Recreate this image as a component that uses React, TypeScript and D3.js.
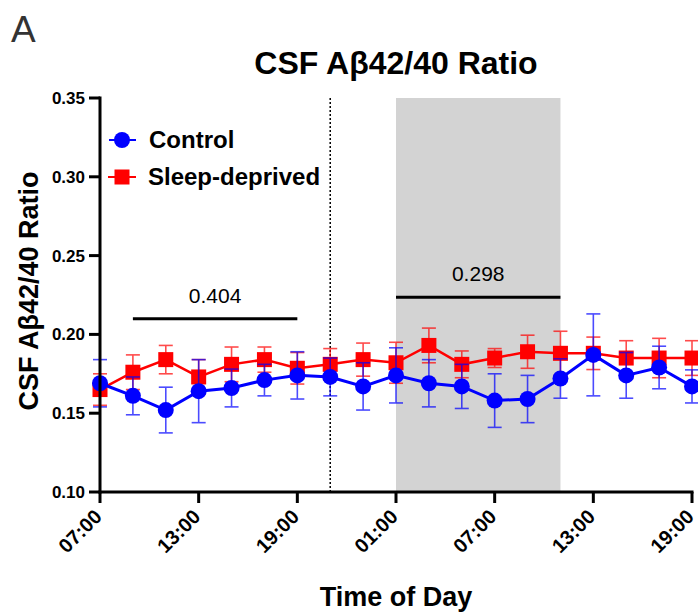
import React from "react";
import * as d3 from "d3";

// hours since 07:00 on day 1
const hours = [0, 2, 4, 6, 8, 10, 12, 14, 16, 18, 20, 22, 24, 26, 28, 30, 32, 34, 36];
const controlMean = [0.169, 0.161, 0.152, 0.164, 0.166, 0.171, 0.174, 0.173, 0.167, 0.174, 0.169, 0.167, 0.158, 0.159, 0.172, 0.187, 0.174, 0.179, 0.167];
const controlErr = [0.015, 0.012, 0.0145, 0.020, 0.012, 0.010, 0.015, 0.012, 0.015, 0.0175, 0.015, 0.014, 0.017, 0.015, 0.0125, 0.026, 0.0145, 0.0135, 0.0105];
const sleepMean = [0.165, 0.176, 0.184, 0.173, 0.181, 0.184, 0.1785, 0.181, 0.184, 0.182, 0.193, 0.181, 0.185, 0.189, 0.188, 0.188, 0.185, 0.185, 0.185];
const sleepErr = [0.01, 0.011, 0.009, 0.011, 0.011, 0.008, 0.01, 0.01, 0.0105, 0.013, 0.011, 0.0085, 0.006, 0.0105, 0.014, 0.0103, 0.011, 0.0125, 0.011];

const xTicks = [0, 6, 12, 18, 24, 30, 36];
const xTickLabels = ["07:00", "13:00", "19:00", "01:00", "07:00", "13:00", "19:00"];
const yTicks = [0.1, 0.15, 0.2, 0.25, 0.3, 0.35];

const darkStart = 14; // 21:00
const shadeRange = [18, 28]; // 01:00 - 11:00
const bars = [
  { from: 2, to: 12, level: 0.21, label: "0.404" },
  { from: 18, to: 28, level: 0.2235, label: "0.298" },
];

const font = "'Liberation Sans', Arial, Helvetica, sans-serif";

export default function App() {
  const W = 698, H = 612;
  const margin = { left: 100, right: 6, top: 98, bottom: 120 };

  const x = d3.scaleLinear().domain([0, 36]).range([margin.left, W - margin.right]);
  const y = d3.scaleLinear().domain([0.1, 0.35]).range([H - margin.bottom, margin.top]);

  const line = d3.line<number>()
    .x((_, i) => x(hours[i]))
    .y(d => y(d));

  const errorBars = (mean: number[], err: number[], color: string) =>
    mean.map((m, i) => {
      const cx = x(hours[i]);
      const y0 = y(m - err[i]);
      const y1 = y(m + err[i]);
      return (
        <g key={i} stroke={color} strokeWidth={1.6} opacity={0.7}>
          <line x1={cx} x2={cx} y1={y0} y2={y1} />
          <line x1={cx - 7} x2={cx + 7} y1={y0} y2={y0} />
          <line x1={cx - 7} x2={cx + 7} y1={y1} y2={y1} />
        </g>
      );
    });

  return (
    <svg width={W} height={H} style={{ display: "block", position: "absolute", left: 0, top: 0 }} fontFamily={font}>
      <text x={11} y={42} fontSize={37} fill="#333">A</text>
      <text x={396} y={74} fontSize={32} fontWeight="bold" textAnchor="middle">CSF Aβ42/40 Ratio</text>

      {/* shaded region and lights-off marker */}
      <rect x={x(shadeRange[0])} y={y(0.35)} width={x(shadeRange[1]) - x(shadeRange[0])} height={y(0.1) - y(0.35)} fill="#d3d3d3" />
      <line x1={x(darkStart)} x2={x(darkStart)} y1={y(0.35)} y2={y(0.1)} stroke="#000" strokeWidth={1.5} strokeDasharray="2,2" />

      {/* comparison bars */}
      {bars.map((b, i) => (
        <g key={i}>
          <line x1={x(b.from)} x2={x(b.to)} y1={y(b.level)} y2={y(b.level)} stroke="#000" strokeWidth={3} />
          <text x={(x(b.from) + x(b.to)) / 2} y={y(b.level) - 16} fontSize={21} textAnchor="middle">{b.label}</text>
        </g>
      ))}

      {/* sleep-deprived */}
      {errorBars(sleepMean, sleepErr, "#ff0000")}
      <path d={line(sleepMean) ?? ""} fill="none" stroke="#ff0000" strokeWidth={2.5} />
      {sleepMean.map((m, i) => (
        <rect key={i} x={x(hours[i]) - 7.5} y={y(m) - 7.5} width={15} height={15} fill="#ff0000" />
      ))}

      {/* control */}
      {errorBars(controlMean, controlErr, "#0000ff")}
      <path d={line(controlMean) ?? ""} fill="none" stroke="#0000ff" strokeWidth={3} />
      {controlMean.map((m, i) => (
        <circle key={i} cx={x(hours[i])} cy={y(m)} r={8} fill="#0000ff" />
      ))}

      {/* axes */}
      <line x1={x(0)} x2={x(0)} y1={y(0.35) - 1.5} y2={y(0.1) + 1.5} stroke="#000" strokeWidth={3} />
      <line x1={x(0) - 1.5} x2={x(36) + 1.5} y1={y(0.1)} y2={y(0.1)} stroke="#000" strokeWidth={3} />
      {yTicks.map(t => (
        <g key={t}>
          <line x1={x(0) - 11} x2={x(0)} y1={y(t)} y2={y(t)} stroke="#000" strokeWidth={3} />
          <text x={x(0) - 15} y={y(t) + 6} fontSize={17} fontWeight="bold" textAnchor="end">{d3.format(".2f")(t)}</text>
        </g>
      ))}
      {xTicks.map((t, i) => (
        <g key={t}>
          <line x1={x(t)} x2={x(t)} y1={y(0.1)} y2={y(0.1) + 11} stroke="#000" strokeWidth={3} />
          <text transform={`translate(${x(t) + 3},${y(0.1) + 26}) rotate(-45)`} fontSize={20} fontWeight="bold" textAnchor="end">{xTickLabels[i]}</text>
        </g>
      ))}

      <text transform={`translate(38,${(y(0.35) + y(0.1)) / 2 - 4}) rotate(-90)`} fontSize={27} fontWeight="bold" textAnchor="middle">CSF Aβ42/40 Ratio</text>
      <text x={396} y={606} fontSize={27} fontWeight="bold" textAnchor="middle">Time of Day</text>

      {/* legend */}
      <g>
        <line x1={109} x2={136} y1={140} y2={140} stroke="#0000ff" strokeWidth={2} />
        <circle cx={122} cy={140} r={8} fill="#0000ff" />
        <text x={149} y={148} fontSize={24} fontWeight="bold">Control</text>
        <line x1={108} x2={136} y1={177} y2={177} stroke="#ff0000" strokeWidth={2} />
        <rect x={114.5} y={169.5} width={15} height={15} fill="#ff0000" />
        <text x={148} y={185} fontSize={24} fontWeight="bold">Sleep-deprived</text>
      </g>
    </svg>
  );
}
